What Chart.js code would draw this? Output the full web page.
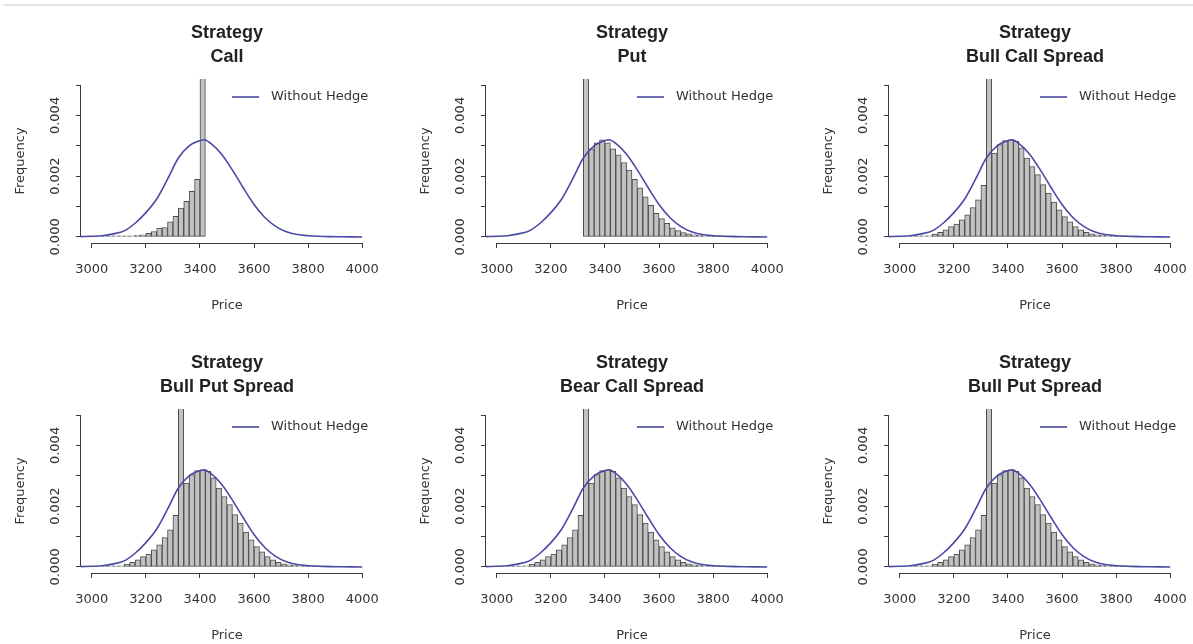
<!DOCTYPE html>
<html>
<head>
<meta charset="utf-8">
<script src="https://cdn.jsdelivr.net/npm/chart.js@4.4.0/dist/chart.umd.min.js"></script>
<style>
html, body { margin: 0; padding: 0; background: #ffffff; width: 1193px; height: 644px; overflow: hidden; position: relative; }
.topline { position: absolute; left: 4px; right: 0; top: 4px; height: 2px; background: #e3e3e3; }
canvas { position: absolute; }
</style>
</head>
<body>
<div class="topline"></div>
<canvas id="p1" width="400" height="325" style="left:0px;top:0px"></canvas>
<canvas id="p2" width="400" height="325" style="left:405px;top:0px"></canvas>
<canvas id="p3" width="400" height="325" style="left:808px;top:0px"></canvas>
<canvas id="p4" width="400" height="325" style="left:0px;top:330px"></canvas>
<canvas id="p5" width="400" height="325" style="left:405px;top:330px"></canvas>
<canvas id="p6" width="400" height="325" style="left:808px;top:330px"></canvas>
<script>
// ---- tick labels ----
const xTickValues = [3000, 3200, 3400, 3600, 3800, 4000];
const xTickLabels = ['3000', '3200', '3400', '3600', '3800', '4000'];
const yTickValues = [0, 0.001, 0.002, 0.003, 0.004, 0.005];
const yTickLabels = ['0.000', '', '0.002', '', '0.004', ''];

// ---- "Without Hedge" density curve (same in every panel) ----
const densityPrice = [2960, 3000, 3040, 3080, 3120, 3160, 3200, 3240, 3280, 3320, 3360, 3390, 3415, 3440, 3480,
                      3520, 3560, 3600, 3640, 3680, 3720, 3760, 3800, 3840, 3880, 3920, 3960, 4000];
const densityFreq = [0.00001, 0.00002, 0.00004, 0.0001, 0.0002, 0.00045, 0.0008, 0.00125, 0.0019, 0.0026,
                     0.003, 0.00314, 0.0032, 0.00308, 0.00272, 0.0022, 0.00162, 0.00107, 0.00064, 0.00035,
                     0.00017, 0.00008, 0.00004, 0.00002, 0.00001, 0.000005, 0.000002, 0];

// ---- histogram bins (bin centres, width 20) ----
const callBins = [3050, 3070, 3090, 3110, 3130, 3150, 3170, 3190, 3210, 3230, 3250, 3270, 3290, 3310,
                  3330, 3350, 3370, 3390, 3410];
const callFreq = [0.00001, 0.00001, 0.00002, 0.00002, 0.00003, 0.00004, 0.00005, 0.00007, 0.00012, 0.00018,
                  0.00029, 0.00031, 0.0005, 0.00068, 0.00095, 0.00117, 0.0015, 0.0019, 0.0235];

const putBins = [3330, 3350, 3370, 3390, 3410, 3430, 3450, 3470, 3490, 3510, 3530, 3550, 3570, 3590, 3610,
                 3630, 3650, 3670, 3690, 3710, 3730, 3750, 3770, 3790, 3810, 3830, 3850, 3870];
const putFreq = [0.0135, 0.0029, 0.0031, 0.0032, 0.0031, 0.0029, 0.0027, 0.00245, 0.0022, 0.0019, 0.00162,
                 0.00132, 0.00104, 0.00078, 0.0006, 0.00045, 0.0003, 0.00021, 0.00014, 0.0001, 0.00007,
                 0.00005, 0.00003, 0.00002, 0.000015, 0.00001, 0.000005, 0.000005];

const spreadBins = [3050, 3070, 3090, 3110, 3130, 3150, 3170, 3190, 3210, 3230, 3250, 3270, 3290, 3310,
                    3330, 3350, 3370, 3390, 3410, 3430, 3450, 3470, 3490, 3510, 3530, 3550, 3570, 3590,
                    3610, 3630, 3650, 3670, 3690, 3710, 3730, 3750, 3770, 3790, 3810, 3830, 3850, 3870];
const spreadFreq = [0.00001, 0.00001, 0.00002, 0.00004, 0.00009, 0.00015, 0.00023, 0.00034, 0.00042, 0.00056,
                    0.00073, 0.00097, 0.00122, 0.0017, 0.0135, 0.00276, 0.00304, 0.00317, 0.0032, 0.00315,
                    0.00293, 0.0026, 0.00232, 0.00205, 0.00172, 0.00144, 0.00115, 0.00089, 0.00067, 0.0005,
                    0.00034, 0.00023, 0.00015, 0.0001, 0.00007, 0.00005, 0.00003, 0.00002, 0.00001,
                    0.000005, 0.000005, 0.000005];

const panelTitles = [
  ['Strategy', 'Call'],
  ['Strategy', 'Put'],
  ['Strategy', 'Bull Call Spread'],
  ['Strategy', 'Bull Put Spread'],
  ['Strategy', 'Bear Call Spread'],
  ['Strategy', 'Bull Put Spread']
];
const panelBins = [callBins, putBins, spreadBins, spreadBins, spreadBins, spreadBins];
const panelFreq = [callFreq, putFreq, spreadFreq, spreadFreq, spreadFreq, spreadFreq];

const legendLabel = 'Without Hedge';
const xTitle = 'Price';
const yTitle = 'Frequency';

// ---- styles ----
const lineColor = '#4a4aa6';
const barFill = '#c2c2c2';
const barEdge = '#4d4d4d';
const axisColor = '#3a3a3a';
const textColor = '#333333';
const smallFont = { family: '"DejaVu Sans", sans-serif', size: 13, lineHeight: 1.2 };

const rAxesAndLegend = {
  id: 'rAxesAndLegend',
  afterDraw(chart) {
    const { ctx, chartArea, scales } = chart;
    const x = scales.x, y = scales.y;
    ctx.save();
    ctx.strokeStyle = axisColor;
    ctx.lineWidth = 1;
    ctx.beginPath();
    const yb = Math.round(chartArea.bottom) + 0.5;
    ctx.moveTo(x.getPixelForValue(xTickValues[0]), yb);
    ctx.lineTo(x.getPixelForValue(xTickValues[xTickValues.length - 1]), yb);
    const xl = Math.round(chartArea.left) - 0.5;
    ctx.moveTo(xl, y.getPixelForValue(yTickValues[0]));
    ctx.lineTo(xl, y.getPixelForValue(yTickValues[yTickValues.length - 1]));
    ctx.stroke();
    // legend (top-right, inside plot region, no box)
    const ds = chart.data.datasets[0];
    const ly = chartArea.top + 18;
    ctx.strokeStyle = ds.borderColor;
    ctx.lineWidth = 1.6;
    ctx.beginPath();
    ctx.moveTo(chartArea.right - 141, ly);
    ctx.lineTo(chartArea.right - 114, ly);
    ctx.stroke();
    ctx.fillStyle = textColor;
    ctx.font = '13px "DejaVu Sans", sans-serif';
    ctx.textAlign = 'left';
    ctx.textBaseline = 'middle';
    ctx.fillText(ds.label, chartArea.right - 102, ly);
    ctx.restore();
  }
};

function makePanel(id, idx) {
  const bins = panelBins[idx];
  const freq = panelFreq[idx];
  new Chart(document.getElementById(id), {
    type: 'bar',
    data: {
      datasets: [
        {
          type: 'line',
          label: legendLabel,
          data: densityPrice.map((p, i) => ({ x: p, y: densityFreq[i] })),
          borderColor: lineColor,
          borderWidth: 1.6,
          pointRadius: 0,
          fill: false,
          cubicInterpolationMode: 'monotone',
          order: 0
        },
        {
          type: 'bar',
          label: 'Hedged',
          data: bins.map((b, i) => ({ x: b, y: freq[i] })),
          backgroundColor: barFill,
          borderColor: barEdge,
          borderWidth: 1,
          borderSkipped: false,
          minBarLength: 1,
          barPercentage: 1,
          categoryPercentage: 1,
          order: 1
        }
      ]
    },
    plugins: [rAxesAndLegend],
    options: {
      responsive: false,
      animation: false,
      events: [],
      layout: { padding: { left: 0, right: 27, top: 0, bottom: 0 } },
      plugins: {
        legend: { display: false },
        tooltip: { enabled: false },
        title: {
          display: true,
          text: panelTitles[idx],
          fullSize: false,
          align: 'center',
          color: '#222222',
          font: { family: '"Liberation Sans", Arial, sans-serif', size: 18, weight: 'bold', lineHeight: '24px' },
          padding: { top: 21, bottom: 10 }
        }
      },
      scales: {
        x: {
          type: 'linear',
          position: 'bottom',
          min: 2960,
          max: 4040,
          offset: false,
          afterFit: (s) => { s.height = 82; },
          afterBuildTicks: (s) => { s.ticks = xTickValues.map(v => ({ value: v })); },
          border: { display: false },
          grid: { display: true, drawOnChartArea: false, drawTicks: true, tickLength: 5, color: axisColor, tickColor: axisColor, offset: false },
          ticks: {
            autoSkip: false,
            maxRotation: 0,
            minRotation: 0,
            padding: 14,
            color: textColor,
            font: smallFont,
            callback: (v, i) => xTickLabels[i]
          },
          title: { display: true, text: xTitle, color: textColor, font: smallFont, padding: { top: 0, bottom: 12 } }
        },
        y: {
          type: 'linear',
          position: 'left',
          min: -0.0002,
          max: 0.0052,
          afterFit: (s) => { s.width = 81; },
          afterBuildTicks: (s) => { s.ticks = yTickValues.map(v => ({ value: v })); },
          border: { display: false },
          grid: { display: true, drawOnChartArea: false, drawTicks: true, tickLength: 5, color: axisColor, tickColor: axisColor },
          ticks: {
            autoSkip: false,
            minRotation: 90,
            maxRotation: 90,
            crossAlign: 'center',
            padding: 2,
            color: textColor,
            font: smallFont,
            callback: (v, i) => yTickLabels[i]
          },
          title: { display: true, text: yTitle, color: textColor, font: smallFont, padding: { top: 13, bottom: 0 } }
        }
      }
    }
  });
}

['p1', 'p2', 'p3', 'p4', 'p5', 'p6'].forEach((id, i) => makePanel(id, i));
</script>
</body>
</html>
